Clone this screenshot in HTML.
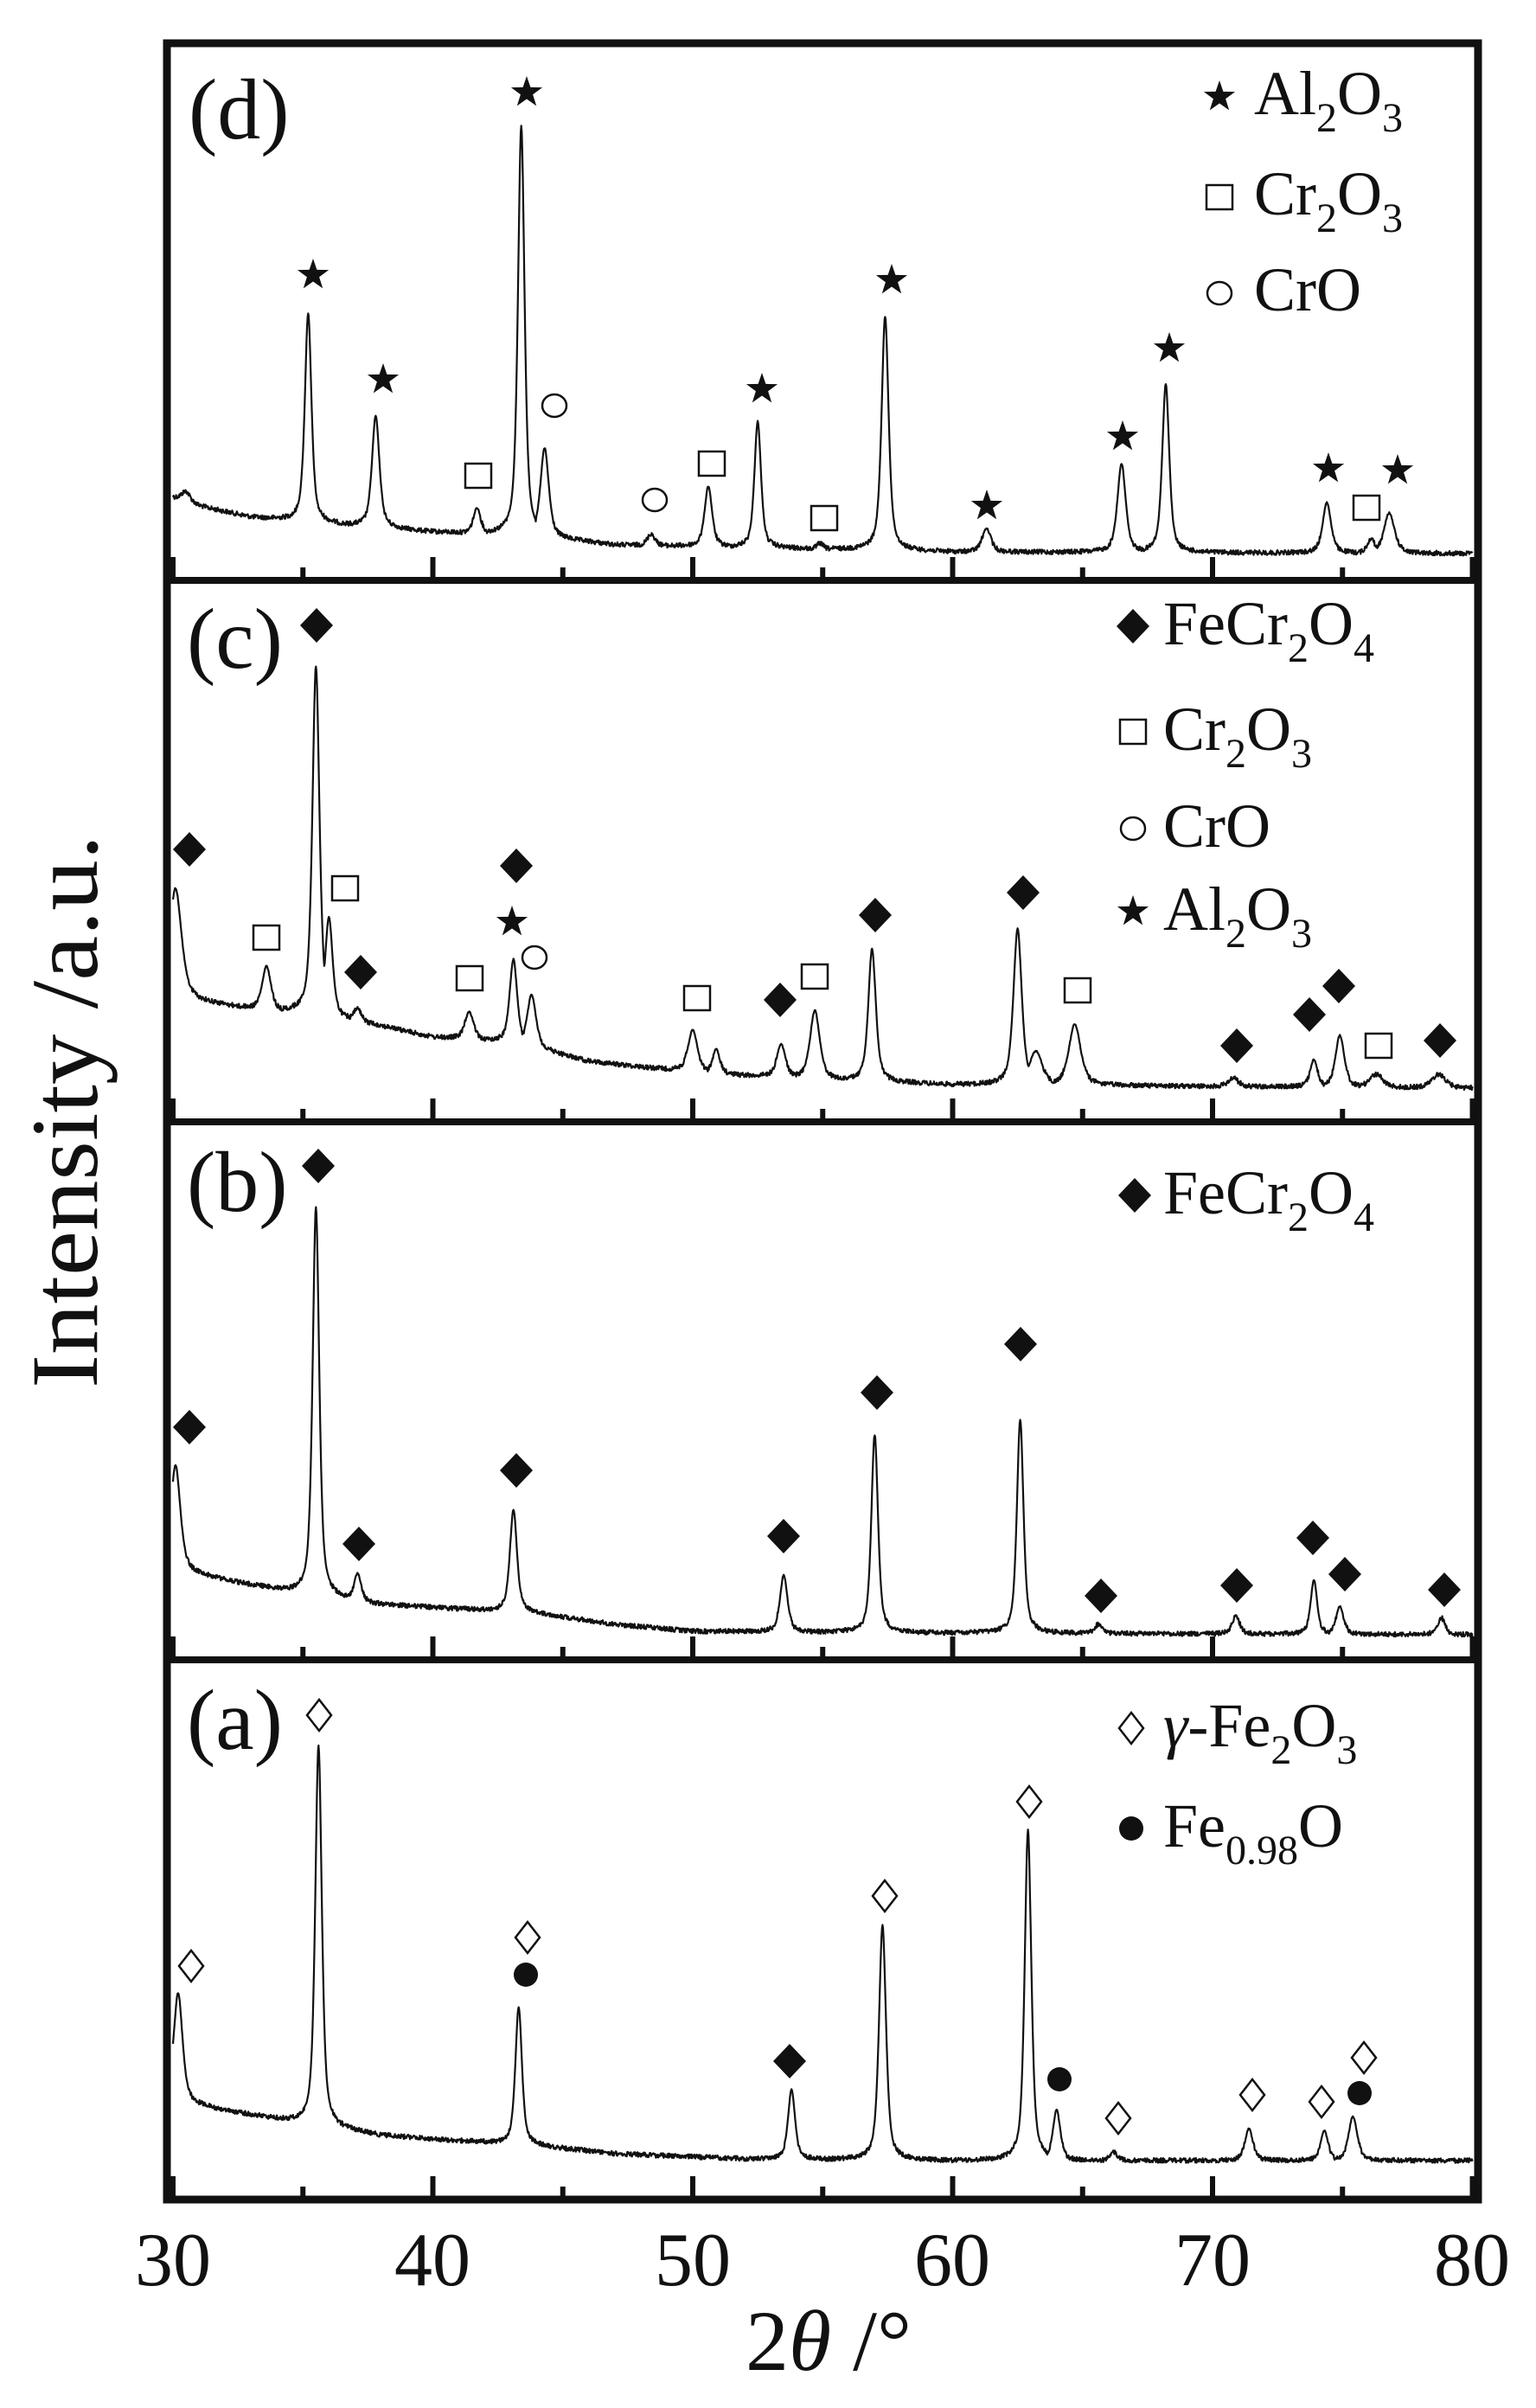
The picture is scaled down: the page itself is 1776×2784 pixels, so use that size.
<!DOCTYPE html>
<html><head><meta charset="utf-8"><style>
html,body{margin:0;padding:0;background:#fff;}
svg{display:block;}
text{font-family:"Liberation Serif","Times New Roman",Times,serif;fill:#111;}
</style></head><body>
<svg id="s" xmlns="http://www.w3.org/2000/svg" width="1776" height="2784" viewBox="0 0 1776 2784" font-family="Liberation Serif, Times New Roman, serif">
<rect width="1776" height="2784" fill="#fff"/>
<g id="curves" fill="none" stroke="#111" stroke-width="2.2" stroke-linejoin="round"></g>
<g id="marks"></g>
<g id="ticks" fill="#111"></g>
<g fill="none" stroke="#111" stroke-width="9">
<rect x="193" y="50" width="1516" height="2493"/>
<line x1="193" y1="671" x2="1709" y2="671" stroke-width="8"/>
<line x1="193" y1="1297" x2="1709" y2="1297" stroke-width="8"/>
<line x1="193" y1="1919" x2="1709" y2="1919" stroke-width="8"/>
</g>
<text x="218" y="160" font-size="100">(d)</text>
<text x="216" y="772" font-size="100">(c)</text>
<text x="216" y="1400" font-size="100">(b)</text>
<text x="216" y="2022" font-size="100">(a)</text>
<g font-size="72">
<text x="1450" y="132">Al<tspan font-size="48" dy="20">2</tspan><tspan dy="-20">O</tspan><tspan font-size="48" dy="20">3</tspan></text>
<text x="1450" y="248">Cr<tspan font-size="48" dy="20">2</tspan><tspan dy="-20">O</tspan><tspan font-size="48" dy="20">3</tspan></text>
<text x="1450" y="359">CrO</text>
<text x="1345" y="745">FeCr<tspan font-size="48" dy="20">2</tspan><tspan dy="-20">O</tspan><tspan font-size="48" dy="20">4</tspan></text>
<text x="1345" y="867">Cr<tspan font-size="48" dy="20">2</tspan><tspan dy="-20">O</tspan><tspan font-size="48" dy="20">3</tspan></text>
<text x="1345" y="979">CrO</text>
<text x="1345" y="1075">Al<tspan font-size="48" dy="20">2</tspan><tspan dy="-20">O</tspan><tspan font-size="48" dy="20">3</tspan></text>
<text x="1345" y="1403">FeCr<tspan font-size="48" dy="20">2</tspan><tspan dy="-20">O</tspan><tspan font-size="48" dy="20">4</tspan></text>
<text x="1345" y="2019"><tspan font-style="italic">γ</tspan>-Fe<tspan font-size="48" dy="20">2</tspan><tspan dy="-20">O</tspan><tspan font-size="48" dy="20">3</tspan></text>
<text x="1345" y="2135">Fe<tspan font-size="48" dy="20">0.98</tspan><tspan dy="-20">O</tspan></text>
</g>
<g font-size="88" text-anchor="middle">
<text x="200" y="2642">30</text><text x="500" y="2642">40</text><text x="801" y="2642">50</text>
<text x="1101" y="2642">60</text><text x="1402" y="2642">70</text><text x="1702" y="2642">80</text>
</g>
<text x="958" y="2740" font-size="100" text-anchor="middle">2<tspan font-style="italic">θ</tspan> /°</text>
<text transform="rotate(-90)" x="-1285" y="112" font-size="110" text-anchor="middle" textLength="640" lengthAdjust="spacingAndGlyphs">Intensity /a.u.</text>
</svg>
<script>
(function(){
var NS="http://www.w3.org/2000/svg";
function X(t){return 200+30.05*(t-30);}
var seed=12345;function rnd(){seed=(seed*1103515245+12345)%2147483648;return seed/2147483648;}
function interp(b,t){if(t<=b[0][0])return b[0][1];for(var i=1;i<b.length;i++){if(t<=b[i][0]){var a=b[i-1],c=b[i];return a[1]+(c[1]-a[1])*(t-a[0])/(c[0]-a[0]);}}return b[b.length-1][1];}
var panels=[
{base:[[30,575],[31,585],[33,598],[35,603],[38,610],[40,615],[44,620],[47,630],[52,633],[60,638],[80,640]],
peaks:[[30.5,568,.2],[35.2,362,.15],[37.8,481,.17],[41.7,587,.17],[43.4,146,.15],[44.3,518,.19],[48.4,617,.17],[50.6,562,.17],[52.5,487,.15],[54.9,628,.14],[57.4,366,.16],[61.3,611,.2],[66.5,536,.19],[68.2,444,.16],[74.4,581,.19],[76.1,622,.17],[76.8,593,.24]]},
{base:[[30,1150],[31,1158],[33,1166],[35,1172],[37,1180],[40,1199],[43,1205],[46,1227],[50,1240],[55,1248],[60,1254],[70,1256],[80,1258]],
peaks:[[30.1,1027,.27],[33.6,1117,.2],[35.5,770,.16],[36.0,1060,.17],[37.1,1166,.17],[41.4,1170,.2],[43.1,1109,.17],[43.8,1150,.2],[50.0,1191,.22],[50.9,1213,.17],[53.4,1207,.2],[54.7,1168,.22],[56.9,1097,.17],[62.5,1074,.19],[63.2,1215,.3],[64.7,1184,.27],[70.8,1246,.22],[73.9,1225,.17],[74.9,1197,.2],[76.3,1242,.3],[78.7,1242,.3]]},
{base:[[30,1815],[31,1821],[34.5,1841],[38,1855],[43.9,1865],[47,1878],[50,1886],[60,1888],[80,1890]],
peaks:[[30.1,1694,.22],[35.5,1396,.15],[37.1,1819,.17],[43.1,1745,.16],[53.5,1821,.17],[57.0,1659,.15],[62.6,1641,.15],[65.6,1878,.17],[70.9,1868,.17],[73.9,1827,.15],[74.9,1857,.17],[78.8,1870,.17]]},
{base:[[30,2425],[30.5,2432],[34.5,2453],[38,2469],[41,2475],[44,2481],[47,2490],[52,2496],[60,2498],[80,2498]],
peaks:[[30.2,2304,.2],[35.6,2018,.15],[43.3,2320,.15],[53.8,2416,.16],[57.3,2226,.16],[62.9,2116,.15],[64.0,2439,.17],[66.2,2488,.17],[71.4,2461,.18],[74.3,2463,.17],[75.4,2447,.2]]}
];
var cg=document.getElementById("curves");
panels.forEach(function(p){
 var d="";
 for(var t=30.0;t<=80.0001;t+=0.02){
  var b=interp(p.base,t),m=0;
  p.peaks.forEach(function(k){var amp=interp(p.base,k[0])-k[1];var u=(t-k[0])/k[2];var f=0.6/(1+u*u)+0.4*Math.exp(-0.693*u*u);var v=amp*f;if(v>m)m=v;});
  var y=b-m+(rnd()-0.5)*5.5*(m<20?1:0.3);
  d+=(d?"L":"M")+X(t).toFixed(1)+" "+y.toFixed(1);
 }
 var pa=document.createElementNS(NS,"path");pa.setAttribute("d",d);cg.appendChild(pa);
});
var tg=document.getElementById("ticks");
[671,1297,1919,2543].forEach(function(by){
 for(var t=30;t<=80;t+=5){var L=(t%10==0)?27:15;var r=document.createElementNS(NS,"rect");
 r.setAttribute("x",X(t)-3);r.setAttribute("y",by-L);r.setAttribute("width",6);r.setAttribute("height",L);tg.appendChild(r);}
});
var mg=document.getElementById("marks");
function add(tag,attrs){var e=document.createElementNS(NS,tag);for(var k in attrs)e.setAttribute(k,attrs[k]);mg.appendChild(e);}
function star(x,y){var r=19,ri=7.5,pts=[];for(var i=0;i<10;i++){var a=-Math.PI/2+i*Math.PI/5;var rr=i%2?ri:r;pts.push((x+rr*Math.cos(a)).toFixed(1)+","+(y+rr*Math.sin(a)).toFixed(1));}add("polygon",{points:pts.join(" "),fill:"#111"});}
function dia(x,y){add("polygon",{points:x+","+(y-20)+" "+(x+19)+","+y+" "+x+","+(y+20)+" "+(x-19)+","+y,fill:"#111"});}
function odia(x,y){add("polygon",{points:x+","+(y-18)+" "+(x+14)+","+y+" "+x+","+(y+18)+" "+(x-14)+","+y,fill:"#fff",stroke:"#111","stroke-width":2.5});}
function sq(x,y){add("rect",{x:x-15,y:y-14,width:30,height:28,fill:"#fff",stroke:"#111","stroke-width":2.5});}
function cir(x,y){add("ellipse",{cx:x,cy:y,rx:14,ry:13,fill:"#fff",stroke:"#111","stroke-width":2.5});}
function dot(x,y){add("circle",{cx:x,cy:y,r:14,fill:"#111"});}
[[362,318],[443,439],[609,107],[881,450],[1031,324],[1141,585],[1298,505],[1352,403],[1536,542],[1616,544]].forEach(function(a){star(a[0],a[1]);});
[[553,550],[823,536],[953,599],[1580,587]].forEach(function(a){sq(a[0],a[1]);});
cir(641,469);cir(757,578);
star(1410,112);sq(1410,228);cir(1410,339);
[[219,982],[366,723],[417,1124],[597,1001],[902,1156],[1012,1058],[1183,1032],[1430,1209],[1514,1173],[1548,1140],[1665,1203]].forEach(function(a){dia(a[0],a[1]);});
[[308,1084],[399,1027],[543,1131],[806,1154],[942,1129],[1246,1145],[1594,1209]].forEach(function(a){sq(a[0],a[1]);});
star(592,1066);cir(618,1107);
dia(1310,724);sq(1310,846);cir(1310,958);star(1310,1054);
[[219,1650],[368,1348],[415,1785],[597,1700],[906,1776],[1014,1610],[1180,1554],[1273,1845],[1430,1833],[1518,1778],[1555,1820],[1670,1838]].forEach(function(a){dia(a[0],a[1]);});
dia(1312,1382);
[[221,2273],[369,1983],[610,2240],[1023,2192],[1190,2083],[1293,2449],[1448,2422],[1528,2430],[1577,2379]].forEach(function(a){odia(a[0],a[1]);});
dot(608,2283);dot(1225,2404);dot(1572,2420);dia(913,2383);
odia(1308,1998);dot(1308,2114);
})();
</script>
</body></html>
